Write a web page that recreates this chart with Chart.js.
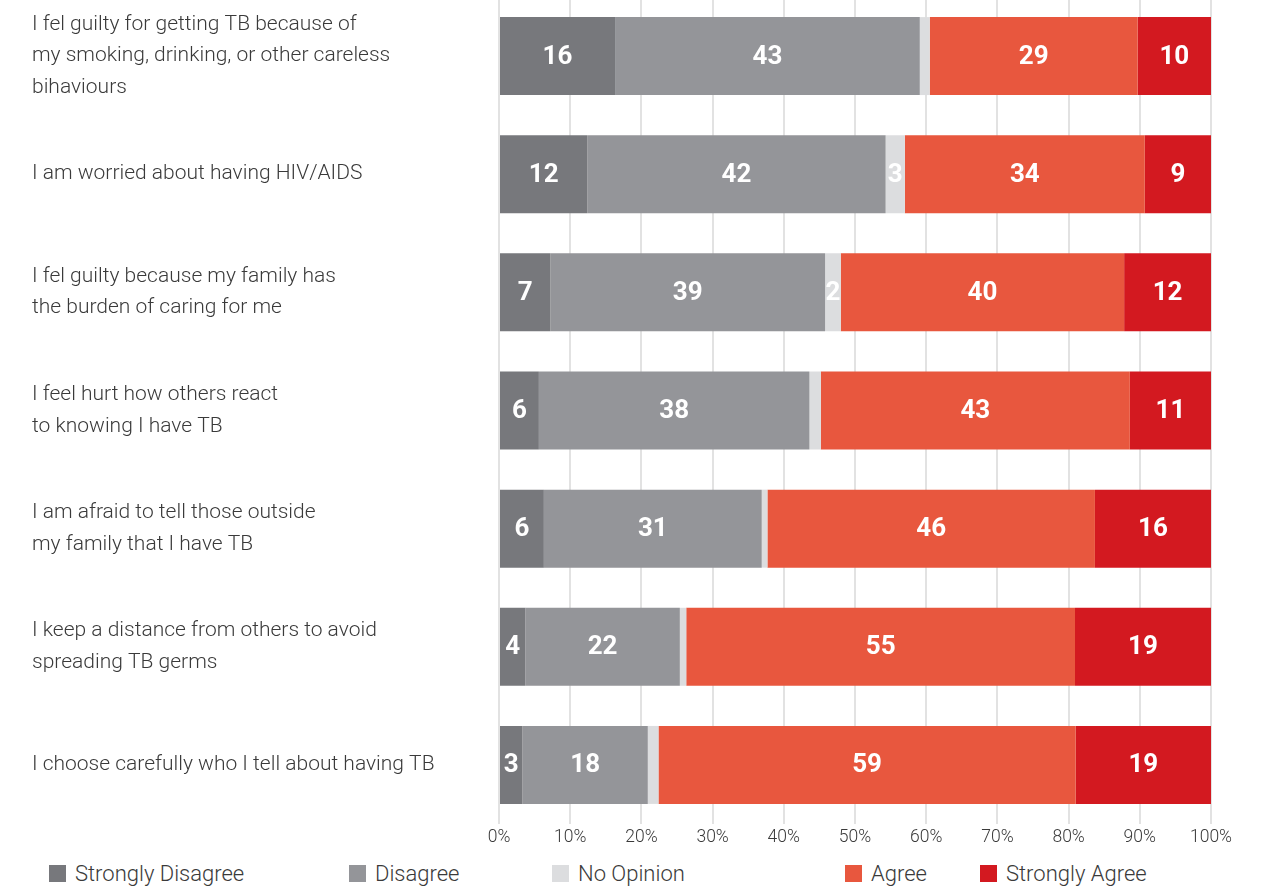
<!DOCTYPE html>
<html lang="en">
<head>
<meta charset="UTF-8">
<title>TB stigma – agreement by statement</title>
<script src="https://cdn.jsdelivr.net/npm/chart.js"></script>
<style>
  html, body { margin: 0; padding: 0; background: #fff; overflow: hidden; }
  body { width: 1262px; height: 887px; position: relative; font-family: Roboto, sans-serif; }
  #wrap { position: absolute; left: 0; top: -3px; width: 1262px; height: 860px; }
  #legend { position: absolute; left: 0; top: 860px; width: 1262px; height: 26px; }
  .item { position: absolute; top: 0; display: flex; align-items: center; height: 26px;
          font-size: 22px; font-weight: 300; color: #3a3a3a; white-space: nowrap; }
  .item i { display: inline-block; width: 17px; height: 17px; margin-right: 9px; }
</style>
</head>
<body>
<div id="wrap"><canvas id="chart"></canvas></div>
<div id="legend"></div>

<script>
  // statements, top to bottom
  const categories = [
    ['I fel guilty for getting TB because of', 'my smoking, drinking, or other careless', 'bihaviours'],
    'I am worried about having HIV/AIDS',
    ['I fel guilty because my family has', 'the burden of caring for me'],
    ['I feel hurt how others react', 'to knowing I have TB'],
    ['I am afraid to tell those outside', 'my family that I have TB'],
    ['I keep a distance from others to avoid', 'spreading TB germs'],
    'I choose carefully who I tell about having TB'
  ];

  const seriesNames = ['Strongly Disagree', 'Disagree', 'No Opinion', 'Agree', 'Strongly Agree'];

  // % of respondents
  const strongDisagree = [16.3, 12.4, 7.2, 5.6, 6.3, 3.7, 3.3];
  const disagree       = [42.8, 41.9, 38.6, 38.0, 30.6, 21.7, 17.6];
  const noOpinion      = [1.4, 2.7, 2.2, 1.6, 0.8, 0.9, 1.5];
  const agree          = [29.2, 33.7, 39.8, 43.4, 46.0, 54.6, 58.6];
  const strongAgree    = [10.3, 9.3, 12.2, 11.4, 16.3, 19.1, 19.0];

  const colors = ['#77787c', '#949599', '#dcdddf', '#e8573e', '#d31920'];
  const legendLeft = [49, 349, 552, 845, 980];

  const allSeries = [strongDisagree, disagree, noOpinion, agree, strongAgree];

  // white numbers inside the segments (tiny slivers left blank)
  const segmentLabels = {
    id: 'segmentLabels',
    afterDatasetsDraw(chart) {
      const ctx = chart.ctx;
      ctx.save();
      ctx.fillStyle = '#ffffff';
      ctx.font = 'bold 26px Roboto, sans-serif';
      ctx.textAlign = 'center';
      ctx.textBaseline = 'middle';
      chart.data.datasets.forEach((ds, i) => {
        chart.getDatasetMeta(i).data.forEach((bar, j) => {
          const v = ds.data[j];
          if (v < 2) return;
          const p = bar.getCenterPoint();
          ctx.fillText(Math.round(v), p.x, p.y + 1);
        });
      });
      ctx.restore();
    }
  };

  const chart = new Chart(document.getElementById('chart'), {
    type: 'bar',
    data: {
      labels: categories,
      datasets: allSeries.map((d, i) => ({
        label: seriesNames[i],
        data: d,
        backgroundColor: colors[i],
        borderWidth: 0,
        categoryPercentage: 1,
        barPercentage: 0.66
      }))
    },
    options: {
      indexAxis: 'y',
      responsive: true,
      maintainAspectRatio: false,
      animation: false,
      layout: { padding: { left: 32, right: 51, top: 0, bottom: 6 } },
      plugins: {
        legend: { display: false },
        tooltip: { enabled: false }
      },
      scales: {
        x: {
          stacked: true,
          min: 0,
          max: 100,
          border: { display: false },
          grid: { color: '#e2e2e2', lineWidth: 2, drawTicks: false },
          ticks: {
            stepSize: 10,
            padding: 3,
            color: '#3a3a3a',
            font: { family: 'Roboto', size: 17.5, weight: 300 },
            callback: v => v + '%'
          }
        },
        y: {
          stacked: true,
          border: { display: false },
          grid: { display: false },
          ticks: {
            crossAlign: 'far',
            color: '#3a3a3a',
            font: { family: 'Roboto', size: 21, weight: 300, lineHeight: 1.5 }
          },
          afterFit(scale) {
            scale.width = 467;
            scale.paddingTop = 0;
            scale.paddingBottom = 0;
          }
        }
      }
    },
    plugins: [segmentLabels]
  });

  // legend row under the axis
  const legend = document.getElementById('legend');
  chart.data.datasets.forEach((ds, i) => {
    const item = document.createElement('div');
    item.className = 'item';
    item.style.left = legendLeft[i] + 'px';
    item.innerHTML = '<i style="background:' + ds.backgroundColor + '"></i>' + ds.label;
    legend.appendChild(item);
  });
</script>
</body>
</html>
